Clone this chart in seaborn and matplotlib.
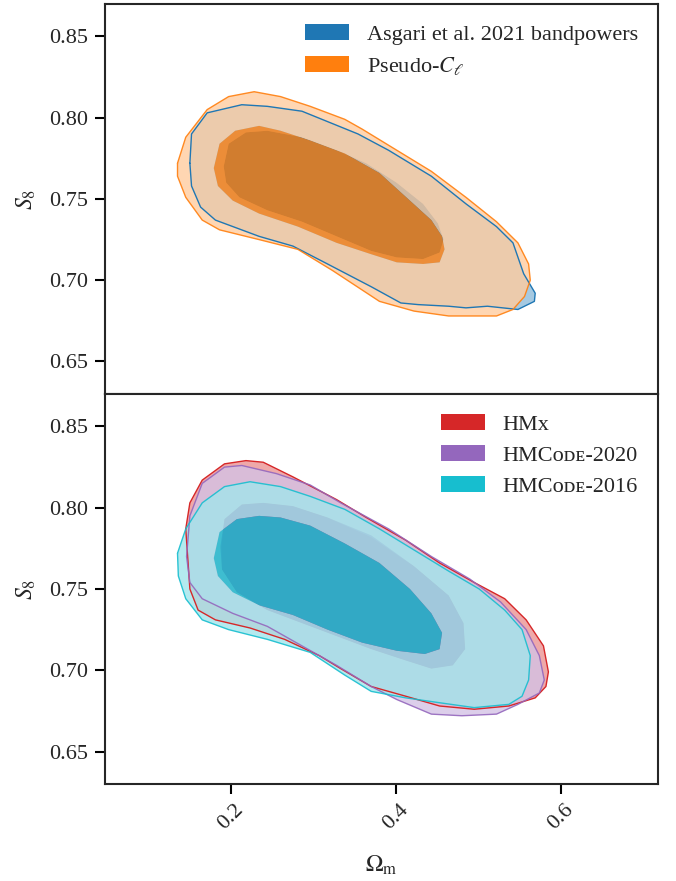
import numpy as np
import matplotlib
matplotlib.use("Agg")
import matplotlib.pyplot as plt
import seaborn as sns
from matplotlib.patches import Patch, PathPatch
from matplotlib.path import Path
from matplotlib.colors import to_rgb

# contour outlines (Omega_m, S_8)
# --- top panel
asgari_outer_om = [0.150, 0.152, 0.171, 0.213, 0.244, 0.286, 0.354, 0.391, 0.443, 0.485, 0.522, 0.542, 0.555, 0.569,
                   0.568, 0.548, 0.511, 0.485, 0.464, 0.427, 0.406, 0.370, 0.317, 0.275, 0.234, 0.181, 0.163, 0.152]
asgari_outer_s8 = [0.772, 0.790, 0.803, 0.808, 0.807, 0.804, 0.790, 0.780, 0.764, 0.747, 0.733, 0.723, 0.704, 0.692,
                   0.687, 0.682, 0.684, 0.683, 0.684, 0.685, 0.686, 0.696, 0.710, 0.721, 0.727, 0.737, 0.745, 0.758]
asgari_inner_om = [0.191, 0.197, 0.218, 0.244, 0.286, 0.328, 0.364, 0.401, 0.433, 0.451, 0.458, 0.453, 0.433, 0.401,
                   0.370, 0.328, 0.286, 0.244, 0.210, 0.194]
asgari_inner_s8 = [0.770, 0.784, 0.791, 0.792, 0.788, 0.780, 0.772, 0.760, 0.747, 0.735, 0.725, 0.717, 0.713, 0.714,
                   0.718, 0.727, 0.736, 0.743, 0.751, 0.760]
pcl_outer_om = [0.135, 0.145, 0.171, 0.197, 0.228, 0.260, 0.296, 0.338, 0.359, 0.401, 0.443, 0.485, 0.522, 0.548, 0.561,
                0.563, 0.556, 0.542, 0.522, 0.464, 0.422, 0.380, 0.359, 0.323, 0.281, 0.234, 0.186, 0.165, 0.145, 0.135]
pcl_outer_s8 = [0.772, 0.788, 0.805, 0.813, 0.816, 0.813, 0.807, 0.799, 0.793, 0.780, 0.767, 0.751, 0.736, 0.723, 0.710,
                0.700, 0.690, 0.682, 0.678, 0.678, 0.681, 0.687, 0.694, 0.706, 0.719, 0.725, 0.731, 0.737, 0.751, 0.764]
pcl_inner_om = [0.179, 0.186, 0.205, 0.234, 0.260, 0.296, 0.338, 0.380, 0.417, 0.443, 0.456, 0.459, 0.453, 0.433, 0.401,
                0.370, 0.328, 0.281, 0.234, 0.202, 0.184]
pcl_inner_s8 = [0.769, 0.784, 0.792, 0.795, 0.792, 0.786, 0.778, 0.766, 0.749, 0.737, 0.727, 0.719, 0.711, 0.710, 0.711,
                0.716, 0.723, 0.733, 0.741, 0.749, 0.758]

# --- bottom panel
hmx_outer_om = [0.145, 0.150, 0.165, 0.192, 0.218, 0.239, 0.275, 0.328, 0.364, 0.412, 0.453, 0.495, 0.532, 0.558, 0.579,
                0.585, 0.582, 0.569, 0.537, 0.495, 0.453, 0.412, 0.370, 0.333, 0.307, 0.265, 0.223, 0.181, 0.160, 0.150]
hmx_outer_s8 = [0.787, 0.803, 0.817, 0.827, 0.829, 0.828, 0.819, 0.805, 0.794, 0.780, 0.766, 0.754, 0.744, 0.731, 0.715,
                0.699, 0.690, 0.683, 0.678, 0.676, 0.678, 0.684, 0.690, 0.701, 0.709, 0.719, 0.726, 0.731, 0.737, 0.750]
hmx_inner_om = [0.188, 0.192, 0.213, 0.239, 0.275, 0.317, 0.370, 0.422, 0.464, 0.482, 0.484, 0.469, 0.443, 0.412, 0.370,
                0.328, 0.286, 0.244, 0.207, 0.189]
hmx_inner_s8 = [0.776, 0.793, 0.802, 0.803, 0.801, 0.794, 0.782, 0.764, 0.746, 0.729, 0.713, 0.703, 0.701, 0.706, 0.713,
                0.721, 0.729, 0.737, 0.748, 0.762]
hm20_outer_om = [0.146, 0.150, 0.165, 0.192, 0.213, 0.255, 0.296, 0.333, 0.391, 0.443, 0.490, 0.527, 0.558, 0.574,
                 0.580, 0.574, 0.548, 0.522, 0.480, 0.443, 0.401, 0.370, 0.328, 0.286, 0.244, 0.202, 0.165, 0.150]
hm20_outer_s8 = [0.770, 0.795, 0.815, 0.825, 0.826, 0.821, 0.814, 0.803, 0.787, 0.770, 0.756, 0.742, 0.725, 0.709,
                 0.694, 0.686, 0.679, 0.673, 0.672, 0.673, 0.682, 0.690, 0.703, 0.715, 0.727, 0.735, 0.744, 0.754]
hm20_inner_om = [0.187, 0.192, 0.213, 0.239, 0.275, 0.317, 0.370, 0.422, 0.464, 0.482, 0.484, 0.469, 0.443, 0.412, 0.370,
                 0.328, 0.286, 0.244, 0.207, 0.189]
hm20_inner_s8 = [0.776, 0.793, 0.802, 0.803, 0.801, 0.794, 0.783, 0.764, 0.746, 0.729, 0.713, 0.703, 0.701, 0.706, 0.713,
                 0.721, 0.729, 0.737, 0.748, 0.762]
hm16_outer_om = [0.135, 0.145, 0.165, 0.192, 0.223, 0.260, 0.296, 0.338, 0.380, 0.422, 0.464, 0.501, 0.532, 0.553, 0.563,
                 0.561, 0.553, 0.537, 0.495, 0.453, 0.412, 0.370, 0.338, 0.296, 0.244, 0.197, 0.165, 0.145, 0.136]
hm16_outer_s8 = [0.772, 0.787, 0.803, 0.813, 0.816, 0.813, 0.807, 0.799, 0.787, 0.774, 0.761, 0.750, 0.737, 0.725, 0.709,
                 0.694, 0.684, 0.679, 0.677, 0.680, 0.683, 0.687, 0.697, 0.711, 0.719, 0.725, 0.731, 0.744, 0.758]
hm16_inner_om = [0.179, 0.186, 0.207, 0.234, 0.260, 0.296, 0.338, 0.380, 0.417, 0.443, 0.456, 0.453, 0.435, 0.401, 0.359,
                 0.317, 0.275, 0.234, 0.202, 0.184]
hm16_inner_s8 = [0.769, 0.785, 0.793, 0.795, 0.794, 0.789, 0.778, 0.766, 0.750, 0.735, 0.723, 0.713, 0.710, 0.712, 0.717,
                 0.725, 0.734, 0.740, 0.748, 0.758]

top_labels = ["Asgari et al. 2021 bandpowers", r"Pseudo-$C_\ell$"]
bottom_labels = ["HMx", "HMCᴏᴅᴇ-2020", "HMCᴏᴅᴇ-2016"]

sns.set_theme(style="ticks")
plt.rcParams["font.family"] = ["Liberation Serif", "DejaVu Serif", "DejaVu Sans"]
plt.rcParams["mathtext.fontset"] = "stix"

pal = sns.color_palette("tab10")
blue, orange, red, purple, cyan = pal[0], pal[1], pal[3], pal[4], pal[9]


def lighten(c, f=0.4):
    return tuple(1 - f * (1 - v) for v in to_rgb(c))


def signed_area(x, y):
    return 0.5 * np.sum(x * np.roll(y, -1) - np.roll(x, -1) * y)


def ring_path(outer, inner):
    ox, oy = np.asarray(outer[0]), np.asarray(outer[1])
    ix, iy = np.asarray(inner[0]), np.asarray(inner[1])
    if np.sign(signed_area(ox, oy)) == np.sign(signed_area(ix, iy)):
        ix, iy = ix[::-1], iy[::-1]
    verts, codes = [], []
    for x, y in [(ox, oy), (ix, iy)]:
        pts = list(zip(x, y))
        verts += pts + [pts[0]]
        codes += [Path.MOVETO] + [Path.LINETO] * (len(pts) - 1) + [Path.CLOSEPOLY]
    return Path(verts, codes)


def fill_contours(ax, outer, inner, color, alpha):
    # 95% ring (outer minus inner) in a light shade, 68% region in the full colour
    ax.add_patch(PathPatch(ring_path(outer, inner), facecolor=lighten(color), alpha=alpha, lw=0))
    ax.fill(inner[0], inner[1], color=color, alpha=alpha, lw=0)


def outline(ax, outer, color, alpha):
    xs = list(outer[0]) + [outer[0][0]]
    ys = list(outer[1]) + [outer[1][0]]
    sns.lineplot(x=xs, y=ys, sort=False, estimator=None, color=color, lw=1.0, alpha=alpha, ax=ax)


fig = plt.figure(figsize=(6.76, 8.81), dpi=100)
ax1 = fig.add_axes([0.1553, 0.5528, 0.8181, 0.4427])
ax2 = fig.add_axes([0.1553, 0.1101, 0.8181, 0.4427])

top = [((asgari_outer_om, asgari_outer_s8), (asgari_inner_om, asgari_inner_s8), blue, 1.0),
       ((pcl_outer_om, pcl_outer_s8), (pcl_inner_om, pcl_inner_s8), orange, 0.8)]
bottom = [((hmx_outer_om, hmx_outer_s8), (hmx_inner_om, hmx_inner_s8), red, 1.0),
          ((hm20_outer_om, hm20_outer_s8), (hm20_inner_om, hm20_inner_s8), purple, 0.8),
          ((hm16_outer_om, hm16_outer_s8), (hm16_inner_om, hm16_inner_s8), cyan, 0.8)]

for ax, sets, labels in [(ax1, top, top_labels), (ax2, bottom, bottom_labels)]:
    for outer, inner, c, a in sets:
        fill_contours(ax, outer, inner, c, a)
    for outer, inner, c, a in sets:
        outline(ax, outer, c, min(1.0, a + 0.1))
    ax.set_xlim(0.047, 0.718)
    ax.set_ylim(0.63, 0.87)
    ax.set_yticks([0.65, 0.70, 0.75, 0.80, 0.85])
    ax.set_yticklabels(["0.65", "0.70", "0.75", "0.80", "0.85"])
    ax.set_ylabel(r"$S_8$", fontsize=17, labelpad=8)
    for s in ax.spines.values():
        s.set_linewidth(1.5)
        s.set_visible(True)
    ax.tick_params(axis="both", direction="out", length=7, width=1.5, pad=5,
                   labelsize=16, color="black")
    handles = [Patch(facecolor=c, edgecolor="none") for _, _, c, _ in sets]
    ax.legend(handles, labels, loc="upper right", frameon=False, fontsize=16,
              handlelength=2.0, handleheight=0.75, labelspacing=0.45, handletextpad=0.8,
              borderaxespad=0.5)

ax1.set_xticks([])
ax1.set_xlabel("")
ax2.set_xticks([0.2, 0.4, 0.6])
ax2.set_xticklabels(["0.2", "0.4", "0.6"], rotation=45)
ax2.set_xlabel(r"$\Omega_\mathrm{m}$", fontsize=17, labelpad=14)

fig.savefig("out.png", dpi=100)
